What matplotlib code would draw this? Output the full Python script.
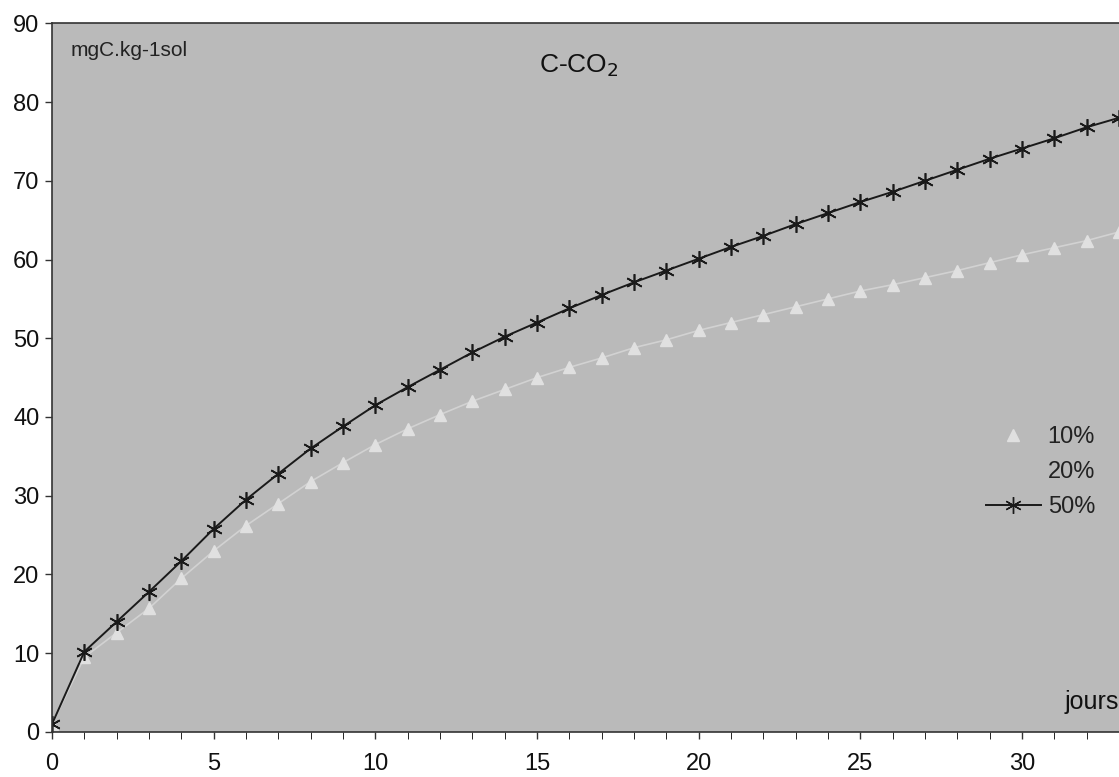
import matplotlib.pyplot as plt
from matplotlib.lines import Line2D

plt.rcParams['font.family'] = ['Liberation Sans', 'DejaVu Sans']

# jours d'incubation
days = list(range(0, 34))
# C-CO2 cumule (mgC.kg-1 sol)
co2_10 = [1, 9.5, 12.6, 15.7, 19.5, 23.0, 26.2, 29.0, 31.8, 34.2, 36.5,
          38.5, 40.3, 42.0, 43.5, 45.0, 46.3, 47.5, 48.8, 49.8, 51.0,
          52.0, 53.0, 54.0, 55.0, 56.0, 56.8, 57.7, 58.6, 59.6, 60.6,
          61.5, 62.4, 63.5]
co2_50 = [1, 10.2, 14.0, 17.8, 21.7, 25.8, 29.5, 32.8, 36.0, 38.8, 41.5,
          43.8, 46.0, 48.2, 50.2, 52.0, 53.8, 55.5, 57.1, 58.6, 60.1,
          61.6, 63.0, 64.5, 65.9, 67.3, 68.6, 70.0, 71.4, 72.8, 74.1,
          75.4, 76.8, 78.0]
labels = ['10%', '20%', '50%']

fig = plt.figure(figsize=(11.19, 7.77), dpi=100)
ax = fig.add_axes([0.0465, 0.058, 0.9535, 0.912])
ax.set_facecolor('#bababa')

ax.plot(days, co2_10, color='#d2d2d2', lw=1.2, marker='^', ms=8,
        mfc='#e0e0e0', mec='#e0e0e0')
ax.plot(days, co2_50, color='#1a1a1a', lw=1.4, marker=(6, 2, 0), ms=12,
        mec='#1a1a1a', mew=1.2)

ax.set_xlim(0, 32.95)
ax.set_ylim(0, 90)
ax.set_xticks(range(0, 35, 5))
ax.set_xticks(range(0, 34), minor=True)
ax.set_yticks(range(0, 91, 10))
ax.tick_params(axis='both', labelsize=17, direction='out', length=5, width=1,
               color='#333333', labelcolor='#111111')
ax.tick_params(axis='x', which='both', pad=10)
ax.tick_params(axis='x', which='minor', length=5)
ax.tick_params(axis='y', pad=4)
ax.spines['right'].set_visible(False)
for s in ['left', 'bottom', 'top']:
    ax.spines[s].set_color('#333333')
    ax.spines[s].set_linewidth(1.2)

ax.text(0.017, 0.962, 'mgC.kg-1sol', transform=ax.transAxes, fontsize=15,
        ha='left', va='center', color='#222222')
ax.text(0.494, 0.940, 'C-CO$_2$', transform=ax.transAxes, fontsize=19,
        ha='center', va='center', color='#111111')
ax.text(1.0, 0.042, 'jours', transform=ax.transAxes, fontsize=18,
        ha='right', va='center', color='#111111')

handles = [Line2D([], [], color='none', marker='^', ms=8, mfc='#e0e0e0',
                  mec='#e0e0e0'),
           Line2D([], [], color='none'),
           Line2D([], [], color='#1a1a1a', lw=1.4, marker=(6, 2, 0), ms=12)]
leg = ax.legend(handles, labels, loc='center right', bbox_to_anchor=(0.993, 0.367),
                frameon=False, fontsize=17, handlelength=2.3,
                labelspacing=0.55, handletextpad=0.3, borderpad=0.2)
for t in leg.get_texts():
    t.set_color('#222222')

plt.savefig('out.png', dpi=100)
